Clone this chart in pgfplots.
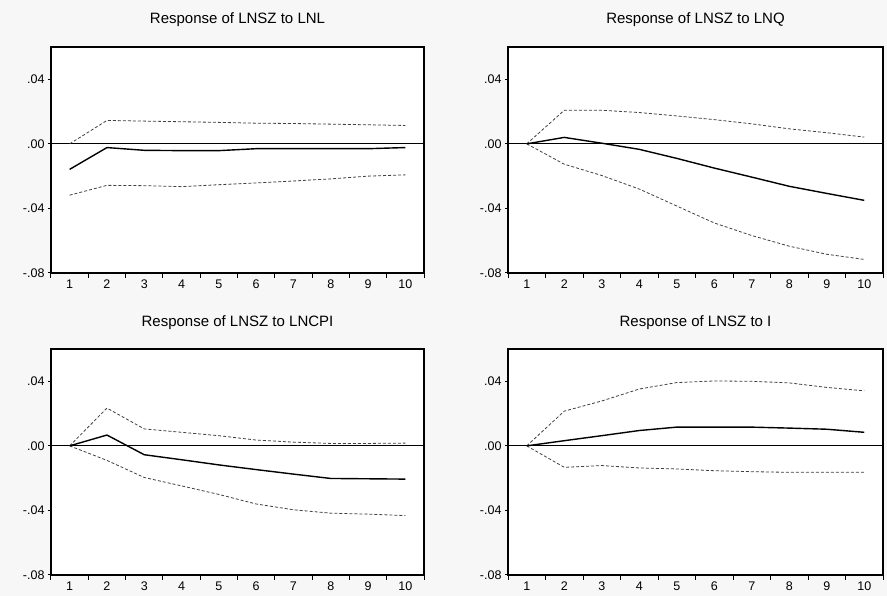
\documentclass[border=0pt]{standalone}
\usepackage{pgfplots}
\pgfplotsset{compat=1.18}
\usepackage{fontspec}
\setmainfont{Liberation Sans}

\pgfplotsset{
  irf/.style={
    scale only axis,
    width=373pt, height=226pt,
    xmin=0.5, xmax=10.5, ymin=-0.08, ymax=0.06,
    xtick={1,...,10},
    xticklabels={1,2,3,4,5,6,7,8,9,10},
    minor xtick={0.5,1.5,...,10.5},
    major x tick style={draw=none},
    ytick={-0.08,-0.04,0,0.04},
    yticklabels={-.08,-.04,.00,.04},
    scaled y ticks=false,
    tick align=outside, tick pos=left,
    major tick length=3pt, minor tick length=5pt,
    every tick/.style={black, line width=1pt},
    axis line style={line width=1.2pt},
    axis background/.style={fill=white},
    ticklabel style={font=\fontsize{12.5}{13}\selectfont},
    every axis title shift=0pt,
    title style={at={(0.5,1)}, anchor=base, yshift=23pt,
      font=\fontsize{15}{15}\selectfont},
    clip=false,
  },
  band/.style={black!75, line width=0.8pt, dash pattern=on 3pt off 2pt},
  resp/.style={black, line width=1.4pt},
  zero/.style={black, line width=1pt},
}

\begin{document}
\begin{tikzpicture}
\fill[black!3] (0,0) rectangle (887pt,596pt);

% top left
\begin{axis}[irf, at={(51pt,323pt)}, anchor=south west,
  title={Response of LNSZ to LNL}]
  \addplot[zero] coordinates {(0.5,0) (10.5,0)};
  \addplot[band] coordinates {(1,0) (2,0.0145) (3,0.0141) (4,0.0137) (5,0.0133) (6,0.0128) (7,0.0126) (8,0.0122) (9,0.0118) (10,0.0114)};
  \addplot[band] coordinates {(1,-0.0318) (2,-0.0257) (3,-0.0259) (4,-0.0265) (5,-0.0253) (6,-0.0242) (7,-0.0230) (8,-0.0217) (9,-0.0200) (10,-0.0192)};
  \addplot[resp] coordinates {(1,-0.0158) (2,-0.0023) (3,-0.0040) (4,-0.0042) (5,-0.0042) (6,-0.0030) (7,-0.0030) (8,-0.0030) (9,-0.0030) (10,-0.0023)};
\end{axis}

% top right
\begin{axis}[irf, at={(508pt,323pt)}, anchor=south west, width=375pt,
  title={Response of LNSZ to LNQ}]
  \addplot[zero] coordinates {(0.5,0) (10.5,0)};
  \addplot[band] coordinates {(1,0) (2,0.0208) (3,0.0208) (4,0.0194) (5,0.0173) (6,0.0150) (7,0.0124) (8,0.0093) (9,0.0069) (10,0.0042)};
  \addplot[band] coordinates {(1,0) (2,-0.0126) (3,-0.0196) (4,-0.0280) (5,-0.0385) (6,-0.0490) (7,-0.0568) (8,-0.0634) (9,-0.0684) (10,-0.0716)};
  \addplot[resp] coordinates {(1,0) (2,0.0040) (3,0.0004) (4,-0.0034) (5,-0.0090) (6,-0.0150) (7,-0.0206) (8,-0.0263) (9,-0.0307) (10,-0.0350)};
\end{axis}

% bottom left
\begin{axis}[irf, at={(51pt,21pt)}, anchor=south west,
  title={Response of LNSZ to LNCPI}]
  \addplot[zero] coordinates {(0.5,0) (10.5,0)};
  \addplot[band] coordinates {(1,0) (2,0.0234) (3,0.0105) (4,0.0084) (5,0.0063) (6,0.0036) (7,0.0023) (8,0.0015) (9,0.0015) (10,0.0017)};
  \addplot[band] coordinates {(1,0) (2,-0.0090) (3,-0.0196) (4,-0.0248) (5,-0.0301) (6,-0.0360) (7,-0.0396) (8,-0.0417) (9,-0.0423) (10,-0.0432)};
  \addplot[resp] coordinates {(1,0) (2,0.0067) (3,-0.0055) (4,-0.0086) (5,-0.0118) (6,-0.0147) (7,-0.0175) (8,-0.0202) (9,-0.0204) (10,-0.0206)};
\end{axis}

% bottom right
\begin{axis}[irf, at={(508pt,21pt)}, anchor=south west, width=375pt,
  title={Response of LNSZ to I}]
  \addplot[zero] coordinates {(0.5,0) (10.5,0)};
  \addplot[band] coordinates {(1,0) (2,0.0215) (3,0.0278) (4,0.0352) (5,0.0392) (6,0.0402) (7,0.0400) (8,0.0390) (9,0.0362) (10,0.0341)};
  \addplot[band] coordinates {(1,0) (2,-0.0133) (3,-0.0122) (4,-0.0137) (5,-0.0143) (6,-0.0154) (7,-0.0160) (8,-0.0164) (9,-0.0164) (10,-0.0164)};
  \addplot[resp] coordinates {(1,0) (2,0.0032) (3,0.0063) (4,0.0095) (5,0.0116) (6,0.0116) (7,0.0116) (8,0.0110) (9,0.0103) (10,0.0084)};
\end{axis}
\end{tikzpicture}
\end{document}
